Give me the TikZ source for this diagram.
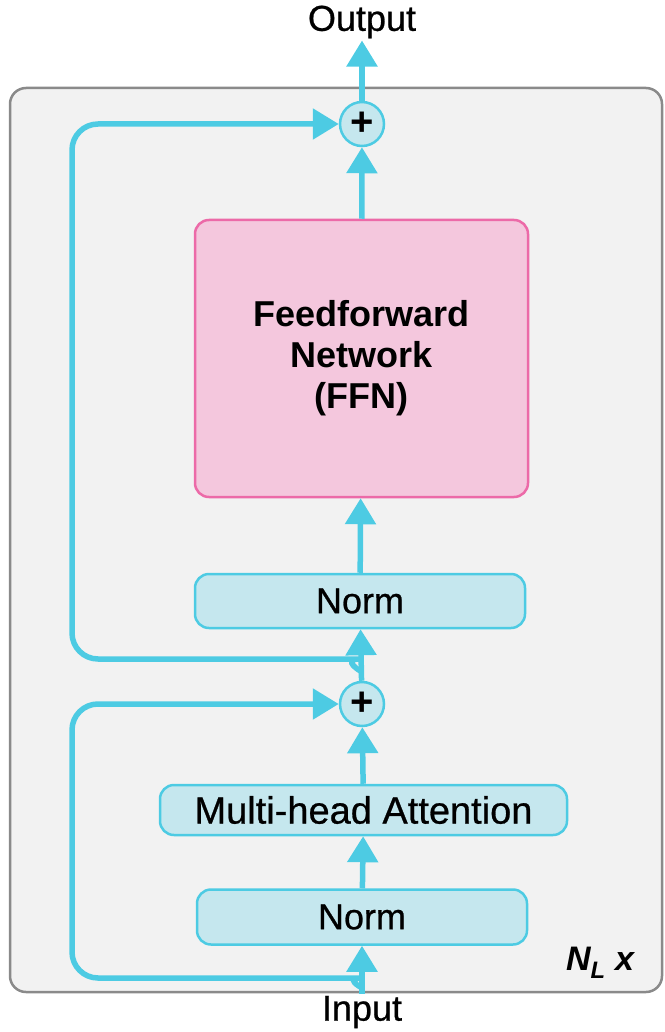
\documentclass[tikz,border=0pt]{standalone}
\usepackage{fontspec}
\setmainfont{Liberation Sans}
\newfontface\medfont{Liberation Sans}[FakeBold=0.7]
\usepackage{xcolor}
\usetikzlibrary{positioning,arrows.meta}

\definecolor{flowcyan}{HTML}{4DCBE3}
\definecolor{boxblue}{HTML}{C5E7EE}
\definecolor{ffnpink}{HTML}{F4C7DD}
\definecolor{ffnedge}{HTML}{EC6AA8}
\definecolor{panelgray}{HTML}{F2F2F2}
\definecolor{paneledge}{HTML}{8A8A8A}

\begin{document}
\begin{tikzpicture}[x=1pt, y=-1pt,
  flow/.style={flowcyan, line width=5.5pt, -{Triangle[width=30pt,length=26pt]}},
  normbox/.style={draw=flowcyan, line width=2.5pt, fill=boxblue, rounded corners=14pt,
    font=\medfont\fontsize{36}{40}\selectfont},
  plusnode/.style={circle, draw=flowcyan, line width=2.5pt, fill=boxblue,
    minimum size=44pt, inner sep=0pt, font=\bfseries\fontsize{40}{40}\selectfont},
  ionode/.style={inner sep=2pt, font=\medfont\fontsize{36}{40}\selectfont}]
\useasboundingbox (0,0) rectangle (664,1032);

\node[draw=paneledge, line width=2.5pt, fill=panelgray, rounded corners=16pt,
  minimum width=652pt, minimum height=904pt] (block) at (336,540) {};

\node[ionode] (output) at (362,22) {Output};
\node[ionode] (input) at (362,1012) {Input};

\node[plusnode] (plustop) at (362,124) {+};
\node[plusnode] (plusbot) at (362,704) {+};

\node[draw=ffnedge, line width=2.5pt, fill=ffnpink, rounded corners=14pt,
  minimum width=333pt, minimum height=277pt, align=center,
  font=\bfseries\fontsize{36}{41}\selectfont] (ffn) at (361.5,358.5)
  {Feedforward\\Network\\(FFN)};
\node[normbox, minimum width=330pt, minimum height=54pt] (normtop) at (360,601) {Norm};
\node[normbox, minimum width=407pt, minimum height=50pt,
  font=\medfont\fontsize{38}{40}\selectfont] (mha) at (363.5,810) {Multi-head Attention};
\node[normbox, minimum width=330pt, minimum height=55pt] (normbot) at (362,917) {Norm};

\node[font=\bfseries\itshape\fontsize{34}{36}\selectfont] (nlabel) at (600,963)
  {N\textsubscript{L} x};

% main path
\draw[flow] (input) -- (normbot);
\draw[flow] (normbot) -- (mha);
\draw[flow] (mha) -- (plusbot);
\draw[flow] (plusbot) -- (normtop);
\draw[flow] (normtop) -- (ffn);
\draw[flow] (ffn) -- (plustop);
\draw[flow] (plustop) -- (output);

% residual connections
\coordinate (lane) at (72,0);
\coordinate (splitbot) at (362,988);
\coordinate (kinkbot) at (338,978);
\coordinate (splittop) at (362,672);
\coordinate (kinktop) at (334,659);
\draw[flow, rounded corners=26pt] (splitbot) to[out=150,in=0] (kinkbot)
  -- (kinkbot -| lane) |- (plusbot.west);
\draw[flow, rounded corners=26pt] (splittop) to[out=150,in=0] (kinktop)
  -- (kinktop -| lane) |- (plustop.west);

\end{tikzpicture}
\end{document}
